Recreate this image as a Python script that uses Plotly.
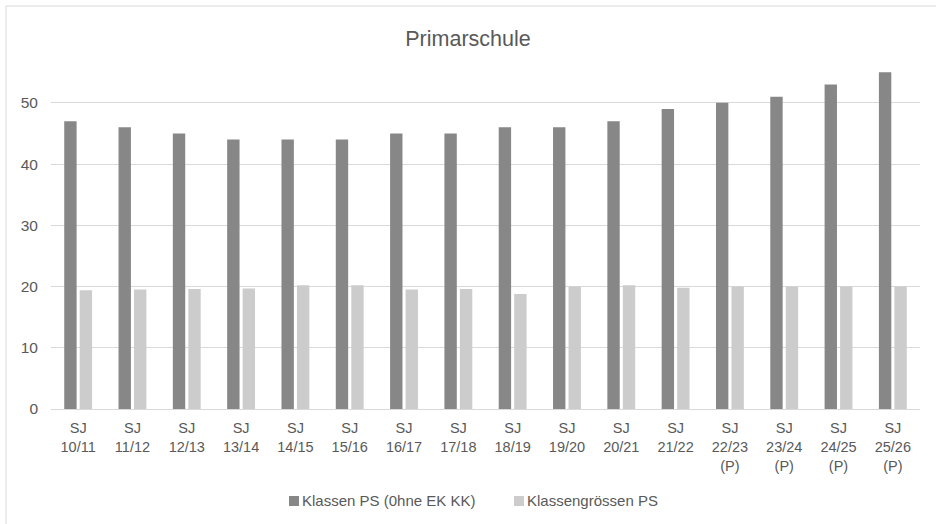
import plotly.graph_objects as go

categories = ["SJ<br>10/11", "SJ<br>11/12", "SJ<br>12/13", "SJ<br>13/14", "SJ<br>14/15", "SJ<br>15/16",
              "SJ<br>16/17", "SJ<br>17/18", "SJ<br>18/19", "SJ<br>19/20", "SJ<br>20/21", "SJ<br>21/22",
              "SJ<br>22/23<br>(P)", "SJ<br>23/24<br>(P)", "SJ<br>24/25<br>(P)", "SJ<br>25/26<br>(P)"]
klassen = [47, 46, 45, 44, 44, 44, 45, 45, 46, 46, 47, 49, 50, 51, 53, 55]
klassengroessen = [19.4, 19.5, 19.6, 19.7, 20.2, 20.2, 19.5, 19.6, 18.8, 20.0, 20.2, 19.8, 20.0, 20.0, 20.0, 20.0]
y_ticks = [0, 10, 20, 30, 40, 50]
series_names = ["Klassen PS (0hne EK KK)", "Klassengrössen PS"]
series_colors = ["#878787", "#cccccc"]

font = "Liberation Sans, Arial, sans-serif"
grey = "#595959"

W, H = 936, 524
L, R, T, B = 51, 16, 60, 115
pw, ph = W - L - R, H - T - B


def px(x):
    return (x - L) / pw


def py(y):
    return (H - B - y) / ph


fig = go.Figure()
fig.add_trace(go.Bar(x=categories, y=klassen, name=series_names[0],
                     marker=dict(color=series_colors[0], line=dict(width=0))))
fig.add_trace(go.Bar(x=categories, y=klassengroessen, name=series_names[1],
                     marker=dict(color=series_colors[1], line=dict(width=0))))

# legend drawn Excel-style (square immediately before the text)
legend_x = [289, 514]
shapes = [dict(type="rect", xref="paper", yref="paper",
               x0=px(6), x1=px(W + 5), y0=py(H + 5), y1=py(6),
               line=dict(color="#d9d9d9", width=1), layer="below")]
annotations = []
for name, col, lx in zip(series_names, series_colors, legend_x):
    shapes.append(dict(type="rect", xref="paper", yref="paper",
                       x0=px(lx), x1=px(lx + 10), y0=py(506), y1=py(496),
                       fillcolor=col, line=dict(width=0)))
    annotations.append(dict(text=name, xref="paper", yref="paper", x=px(lx + 11), y=py(501),
                            xanchor="left", yanchor="middle", showarrow=False,
                            font=dict(family=font, size=15, color=grey)))

fig.update_layout(
    width=W, height=H,
    margin=dict(l=L, r=R, t=T, b=B, autoexpand=False),
    paper_bgcolor="white", plot_bgcolor="white",
    barmode="group", bargap=0.43, bargroupgap=0.2,
    title=dict(text="Primarschule", x=0.5, xanchor="center", y=1 - 38 / H, yanchor="middle",
               font=dict(family=font, size=21.5, color=grey)),
    font=dict(family=font, size=15, color=grey),
    showlegend=False,
    xaxis=dict(showline=True, linecolor="#d9d9d9", ticks="", tickfont=dict(size=14.5, color=grey),
               showgrid=False, automargin=False, ticklabelstandoff=6),
    yaxis=dict(range=[0, 57], tickvals=y_ticks, showgrid=True, gridcolor="#d9d9d9",
               zeroline=False, showline=False, ticks="", tickfont=dict(size=15.5, color=grey),
               ticklabelstandoff=12, automargin=False),
    shapes=shapes,
    annotations=annotations,
)

fig.write_html("out.html", config={"displayModeBar": False},
               post_script="document.body.style.margin='0';")
